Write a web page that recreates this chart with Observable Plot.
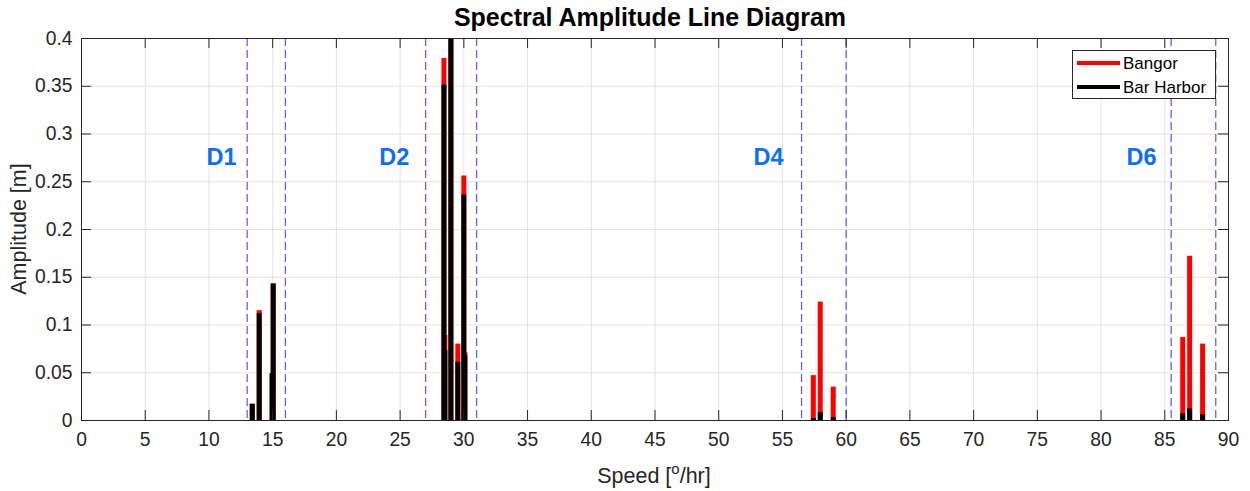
<!DOCTYPE html>
<html>
<head>
<meta charset="utf-8">
<script src="https://cdn.jsdelivr.net/npm/d3@7"></script>
<script src="https://cdn.jsdelivr.net/npm/@observablehq/plot@0.6"></script>
<style>
  html, body { margin: 0; padding: 0; background: #fff; }
  #chart { width: 1250px; height: 491px; }
</style>
</head>
<body>
<div id="chart"></div>
<script>
// ---- data ----
const constituents = ["Q1","O1","P1","K1","N2","NU2","M2","L2","S2","K2","MN4","M4","MS4","2MN6","M6","2MS6"];
const speeds       = [13.3987,13.9430,14.9589,15.0411,28.4397,28.5126,28.9841,29.5285,30.0000,30.0821,57.4238,57.9682,58.9841,86.4079,86.9523,87.9682];
const bangor       = [0.017,0.115,0.049,0.143,0.379,0.089,2.10,0.080,0.256,0.071,0.047,0.124,0.035,0.087,0.172,0.080];
const barHarbor    = [0.017,0.112,0.049,0.143,0.351,0.073,1.53,0.061,0.236,0.068,0.002,0.008,0.003,0.007,0.012,0.006];
const bandEdges    = [13,16,27,31,56.5,60,85.5,89];
const bandNames    = ["D1","D2","D4","D6"];
const bandLabelX   = [10.98,24.55,53.9,83.18];
const bandLabelY   = 0.2754;
const xTicks = [0,5,10,15,20,25,30,35,40,45,50,55,60,65,70,75,80,85,90];
const yTicks = [0,0.05,0.1,0.15,0.2,0.25,0.3,0.35,0.4];

const rows = constituents.map((c,i) => ({name:c, speed:speeds[i], bangor:bangor[i], barHarbor:barHarbor[i]}));
const labels = bandNames.map((n,i) => ({name:n, x:bandLabelX[i], y:bandLabelY}));

const xMax = 90, yMax = 0.4;
const tickLenY = 10 * yMax / 382;   // ~10px in y units
const tickLenX = 10 * xMax / 1147;  // ~10px in x units
const fmt = d => String(+d.toFixed(2));

const plot = Plot.plot({
  width: 1250, height: 491,
  marginLeft: 81, marginRight: 22, marginTop: 38, marginBottom: 71,
  style: {fontFamily: "'Liberation Sans', Arial, Helvetica, sans-serif", fontSize: "19.3px", color: "#262626", background: "#fff"},
  x: {domain: [0, xMax], ticks: xTicks, tickFormat: fmt, tickSize: 0, tickPadding: 12, label: null},
  y: {domain: [0, yMax], ticks: yTicks, tickFormat: fmt, tickSize: 0, tickPadding: 9, label: null},
  marks: [
    Plot.ruleX(xTicks, {stroke: "#e3e3e3", strokeWidth: 1}),
    Plot.ruleY(yTicks, {stroke: "#e3e3e3", strokeWidth: 1}),
    Plot.ruleX(bandEdges, {stroke: "#6161ff", strokeWidth: 1.3, strokeDasharray: "8,4"}),
    Plot.ruleX(rows, {x: "speed", y1: 0, y2: "bangor", stroke: "#ff0000", strokeWidth: 5, clip: true}),
    Plot.ruleX(rows, {x: "speed", y1: 0, y2: "barHarbor", stroke: "#000000", strokeWidth: 5, clip: true}),
    Plot.text(labels, {x: "x", y: "y", text: "name", fill: "#0f6ef5", fontWeight: "bold", fontSize: 23.5}),
    // inward ticks
    Plot.ruleX(xTicks, {x: d => d, y1: 0, y2: tickLenY, stroke: "#262626"}),
    Plot.ruleX(xTicks, {x: d => d, y1: yMax - tickLenY, y2: yMax, stroke: "#262626"}),
    Plot.ruleY(yTicks, {y: d => d, x1: 0, x2: tickLenX, stroke: "#262626"}),
    Plot.ruleY(yTicks, {y: d => d, x1: xMax - tickLenX, x2: xMax, stroke: "#262626"}),
    Plot.frame({stroke: "#262626", strokeWidth: 1})
  ]
});

document.getElementById("chart").appendChild(plot);

const svg = d3.select(plot);
const ff = "'Liberation Sans', Arial, Helvetica, sans-serif";

// title
svg.append("text")
  .attr("x", 650).attr("y", 26)
  .attr("text-anchor", "middle")
  .attr("font-family", ff).attr("font-size", 25).attr("font-weight", "bold")
  .attr("fill", "#000")
  .text("Spectral Amplitude Line Diagram");

// x label with superscript
const xl = svg.append("text")
  .attr("x", 654).attr("y", 483)
  .attr("text-anchor", "middle")
  .attr("font-family", ff).attr("font-size", 21.5)
  .attr("fill", "#262626");
xl.append("tspan").text("Speed [");
xl.append("tspan").attr("dy", -9).attr("font-size", 15).text("o");
xl.append("tspan").attr("dy", 9).text("/hr]");

// y label
svg.append("text")
  .attr("transform", "translate(26,229) rotate(-90)")
  .attr("text-anchor", "middle")
  .attr("font-family", ff).attr("font-size", 21.5)
  .attr("fill", "#262626")
  .text("Amplitude [m]");

// legend
const lg = svg.append("g");
lg.append("rect").attr("x", 1072.5).attr("y", 50.5).attr("width", 143).attr("height", 48)
  .attr("fill", "#fff").attr("stroke", "#262626").attr("stroke-width", 1);
const series = [["Bangor", "#ff0000"], ["Bar Harbor", "#000000"]];
series.forEach(([name, col], i) => {
  const yy = 63 + i * 24;
  lg.append("line").attr("x1", 1077).attr("x2", 1120).attr("y1", yy).attr("y2", yy)
    .attr("stroke", col).attr("stroke-width", 4);
  lg.append("text").attr("x", 1123).attr("y", yy).attr("dy", "0.35em")
    .attr("text-anchor", "start")
    .attr("font-family", ff).attr("font-size", 17).attr("fill", "#000").text(name);
});
</script>
</body>
</html>
